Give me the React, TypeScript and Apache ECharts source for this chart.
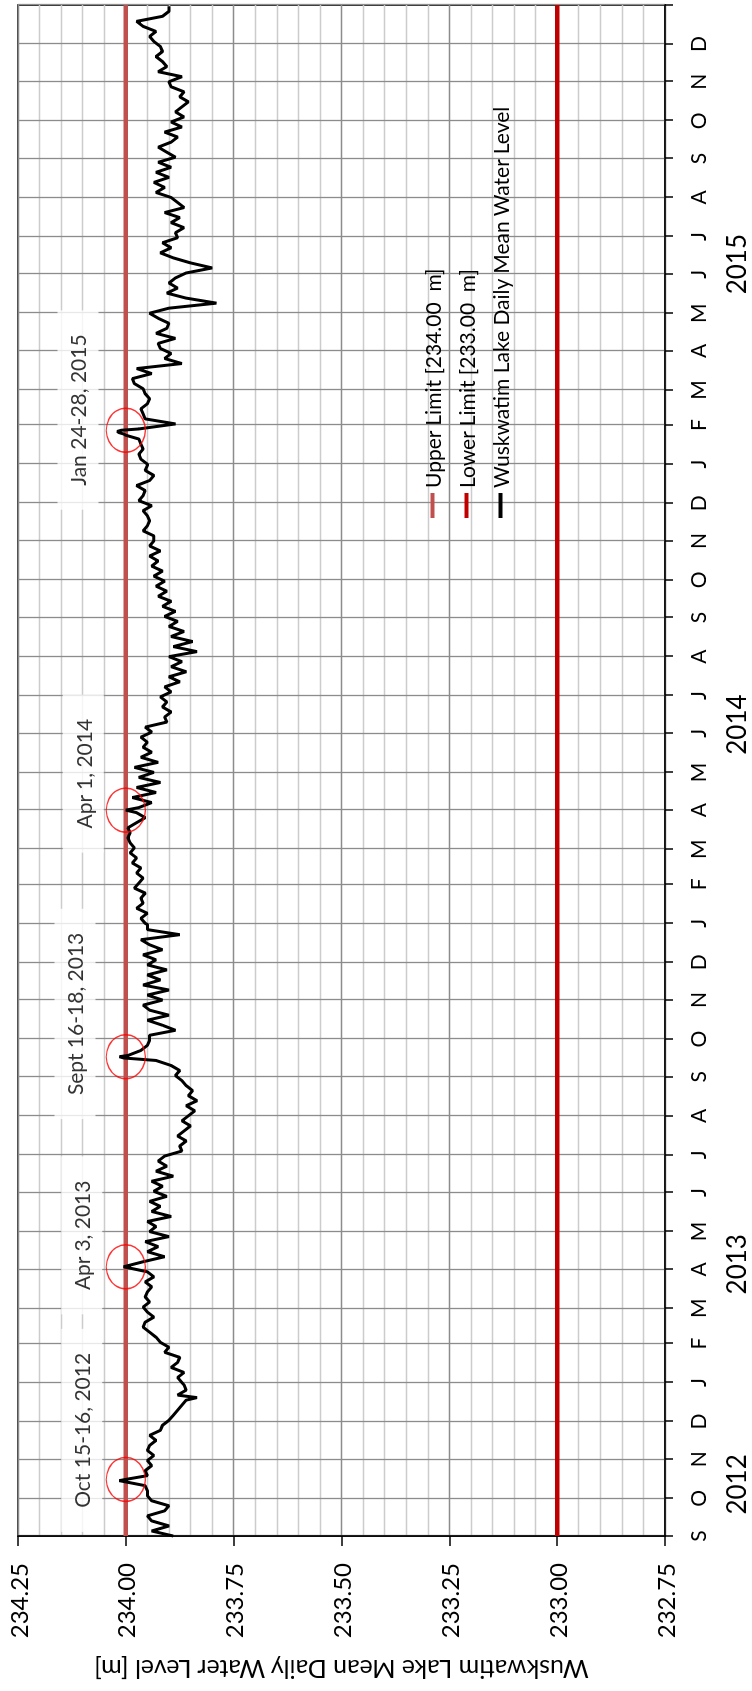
import React, { useEffect, useRef } from "react";
import * as echarts from "echarts";

// ---------- data ----------
const FONT = "Lato, 'Open Sans', sans-serif";
const MONTH_LETTERS = ["J", "F", "M", "A", "M", "J", "J", "A", "S", "O", "N", "D"];
const AXIS_START = "2012-09-01";
const AXIS_END = "2016-01-01";
const YEAR_LABELS = ["2012", "2013", "2014", "2015"];
const YEAR_LABEL_DATES = ["2012-10-12", "2013-04-05", "2014-06-08", "2015-06-09"];
const VALUE_MIN = 232.75;
const VALUE_MAX = 234.25;
const VALUE_STEP = 0.25;
const UPPER_LIMIT = 234.0;
const LOWER_LIMIT = 233.0;
const SERIES_NAMES = [
  "Upper Limit [234.00  m]",
  "Lower Limit [233.00  m]",
  "Wuskwatim Lake Daily Mean Water Level",
];
const Y_TITLE = "Wuskwatim Lake Mean Daily Water Level [m]";

// water level read every 4 days from the block start date
const SAMPLE_STEP_DAYS = 4;
const levels2012 = [
  233.89, 233.94, 233.90, 233.94, 233.95, 233.91, 233.90, 233.94, 233.95, 233.95,
  233.955, 233.955, 233.95, 233.955, 233.94, 233.95, 233.935, 233.95, 233.945, 233.93,
  233.945, 233.92, 233.915, 233.90, 233.89, 233.88, 233.87, 233.86, 233.88, 233.86,
  233.865,
];
const levels2013 = [
  233.87, 233.88, 233.865, 233.895, 233.88, 233.875, 233.91, 233.90, 233.92, 233.93,
  233.945, 233.96, 233.955, 233.935, 233.95, 233.96, 233.945, 233.955, 233.95, 233.94,
  233.955, 233.935, 233.95, 233.96, 233.96, 233.91, 233.95, 233.925, 233.955, 233.90,
  233.945, 233.93, 233.95, 233.895, 233.94, 233.92, 233.945, 233.905, 233.935, 233.915,
  233.94, 233.89, 233.93, 233.905, 233.925, 233.91, 233.87, 233.875, 233.86, 233.88,
  233.865, 233.85, 233.87, 233.855, 233.84, 233.86, 233.835, 233.855, 233.845, 233.86,
  233.87, 233.885, 233.875, 233.895, 233.93, 233.99, 233.965, 233.95, 233.945, 233.945,
  233.885, 233.915, 233.95, 233.90, 233.945, 233.96, 233.915, 233.95, 233.90, 233.96,
  233.92, 233.95, 233.905, 233.95, 233.93, 233.96, 233.915, 233.945, 233.965, 233.875,
  233.95, 233.95,
];
const levels2014 = [
  233.955, 233.965, 233.95, 233.975, 233.96, 233.965, 233.955, 233.98, 233.97, 233.96,
  233.975, 233.965, 233.985, 233.975, 233.99, 233.98, 233.99, 233.995, 233.99, 233.995,
  233.975, 233.955, 233.975, 233.97, 233.94, 233.985, 233.93, 233.975, 233.92, 233.97,
  233.935, 233.98, 233.925, 233.965, 233.94, 233.96, 233.95, 233.965, 233.94, 233.955,
  233.905, 233.91, 233.895, 233.915, 233.905, 233.92, 233.895, 233.91, 233.875, 233.90,
  233.86, 233.895, 233.87, 233.90, 233.835, 233.89, 233.845, 233.895, 233.865, 233.90,
  233.88, 233.91, 233.885, 233.915, 233.895, 233.925, 233.905, 233.93, 233.91, 233.935,
  233.915, 233.94, 233.925, 233.945, 233.92, 233.945, 233.935, 233.935, 233.96, 233.95,
  233.945, 233.95, 233.96, 233.94, 233.97, 233.96, 233.955, 233.975, 233.945, 233.935,
  233.955, 233.95,
];
const levels2015 = [
  233.95, 233.965, 233.97, 233.96, 233.965, 233.97, 233.97, 233.97, 233.885, 233.955,
  233.96, 233.965, 233.95, 233.945, 233.955, 233.96, 233.98, 233.985, 233.94, 233.975,
  233.87, 233.91, 233.895, 233.92, 233.925, 233.885, 233.93, 233.905, 233.90, 233.925,
  233.945, 233.90, 233.79, 233.86, 233.905, 233.88, 233.90, 233.885, 233.86, 233.80,
  233.85, 233.89, 233.92, 233.895, 233.915, 233.88, 233.885, 233.865, 233.895, 233.875,
  233.91, 233.865, 233.88, 233.895, 233.93, 233.91, 233.935, 233.90, 233.93, 233.895,
  233.925, 233.885, 233.905, 233.925, 233.895, 233.88, 233.91, 233.87, 233.895, 233.865,
  233.885, 233.87, 233.855, 233.875, 233.865, 233.895, 233.90, 233.87, 233.925, 233.905,
  233.915, 233.93, 233.915, 233.92, 233.935, 233.945, 233.93, 233.96, 233.975, 233.915,
  233.90, 233.90,
];
const blockStarts = ["2012-09-01", "2013-01-01", "2014-01-01", "2015-01-01"];
const blockLevels = [levels2012, levels2013, levels2014, levels2015];

// individual daily readings (spikes)
const eventDates = [
  "2012-10-15", "2012-10-16", "2012-12-20", "2013-04-03", "2013-09-16",
  "2013-09-17", "2013-09-18", "2014-04-01", "2015-01-24", "2015-01-25",
  "2015-01-26", "2015-01-27", "2015-01-28",
];
const eventLevels = [
  234.015, 234.0, 233.835, 234.005, 234.005,
  234.015, 233.995, 234.0, 234.0, 234.005,
  234.015, 234.02, 234.01,
];

// annotations
const noteTexts = ["Oct 15-16, 2012", "Apr 3, 2013", "Sept 16-18, 2013", "Apr 1, 2014", "Jan 24-28, 2015"];
const noteDates = ["2012-11-24", "2013-04-28", "2013-10-21", "2014-04-30", "2015-02-13"];
const noteLevels = [234.102, 234.102, 234.118, 234.099, 234.111];
const circleDates = ["2012-10-16", "2013-04-03", "2013-09-17", "2014-04-01", "2015-01-28"];
const circleLevels = [234.0, 234.0, 234.0, 234.0, 234.0];

// ---------- derived ----------
const DAY_MS = 86400000;
const startMs = Date.parse(AXIS_START + "T00:00:00Z");
const endMs = Date.parse(AXIS_END + "T00:00:00Z");
const nDays = Math.round((endMs - startMs) / DAY_MS) + 1;
const categories: string[] = Array.from({ length: nDays }, (_, i) =>
  new Date(startMs + i * DAY_MS).toISOString().slice(0, 10)
);
const idxOf = (d: string) => categories.indexOf(d);
const isMonthStart = (v: string) => v.slice(8) === "01";

const levelData: (number | null)[] = new Array(nDays).fill(null);
blockStarts.forEach((s, b) => {
  const i0 = idxOf(s);
  blockLevels[b].forEach((v, k) => {
    const i = i0 + k * SAMPLE_STEP_DAYS;
    if (i < nDays) levelData[i] = v;
  });
});
eventDates.forEach((d, i) => {
  levelData[idxOf(d)] = eventLevels[i];
});

const yearLabelIdx = YEAR_LABEL_DATES.map(idxOf);
const lastIdx = nDays - 1;

const option: any = {
  animation: false,
  backgroundColor: "#ffffff",
  textStyle: { fontFamily: FONT, color: "#000" },
  grid: {
    left: 154,
    right: 5,
    top: 18,
    bottom: 87,
    show: true,
    borderColor: "#000",
    borderWidth: 1.6,
    containLabel: false,
  },
  legend: {
    orient: "vertical",
    left: 1168,
    top: 417,
    icon: "rect",
    itemWidth: 25,
    itemHeight: 4,
    itemGap: 13,
    data: SERIES_NAMES,
    textStyle: { fontFamily: FONT, fontSize: 21, color: "#000" },
  },
  xAxis: [
    {
      type: "category",
      data: categories,
      boundaryGap: false,
      axisLine: { show: true, lineStyle: { color: "#000", width: 1.6 } },
      axisTick: {
        show: true,
        length: 8,
        interval: (i: number, v: string) => isMonthStart(v),
        lineStyle: { color: "#000", width: 1.5 },
      },
      axisLabel: {
        interval: (i: number, v: string) => isMonthStart(v) && i !== lastIdx,
        formatter: (v: string) => MONTH_LETTERS[parseInt(v.slice(5, 7), 10) - 1],
        fontFamily: FONT,
        fontSize: 21,
        color: "#000",
        margin: 22,
      },
      splitLine: {
        show: true,
        interval: (i: number, v: string) => isMonthStart(v),
        lineStyle: { color: "#8c8c8c", width: 1.3 },
      },
    },
    {
      type: "category",
      data: categories,
      boundaryGap: false,
      position: "bottom",
      axisLine: { show: false },
      axisTick: { show: false },
      splitLine: { show: false },
      axisLabel: {
        interval: (i: number) => yearLabelIdx.includes(i),
        formatter: (v: string, i: number) => YEAR_LABELS[yearLabelIdx.indexOf(i)] ?? v.slice(0, 4),
        fontFamily: FONT,
        fontSize: 26,
        color: "#000",
        margin: 58,
      },
    },
  ],
  yAxis: {
    type: "value",
    min: VALUE_MIN,
    max: VALUE_MAX,
    interval: VALUE_STEP,
    name: Y_TITLE,
    nameLocation: "middle",
    nameRotate: 90,
    nameGap: 122,
    nameTextStyle: { fontFamily: FONT, fontSize: 25, color: "#000" },
    axisLine: { show: true, lineStyle: { color: "#000", width: 1.6 } },
    axisTick: { show: true, length: 10, lineStyle: { color: "#000", width: 1.5 } },
    axisLabel: {
      formatter: (v: number) => v.toFixed(2),
      fontFamily: FONT,
      fontSize: 24,
      color: "#000",
      margin: 27,
    },
    splitLine: { show: true, lineStyle: { color: "#8c8c8c", width: 1.3 } },
    minorTick: { show: false, splitNumber: 5 },
    minorSplitLine: { show: true, lineStyle: { color: "#cccccc", width: 1.3 } },
  },
  series: [
    {
      name: SERIES_NAMES[0],
      type: "line",
      xAxisIndex: 0,
      data: [
        [0, UPPER_LIMIT],
        [lastIdx, UPPER_LIMIT],
      ],
      symbol: "none",
      lineStyle: { color: "#C0504D", width: 4.5 },
      itemStyle: { color: "#C0504D" },
      z: 2,
    },
    {
      name: SERIES_NAMES[1],
      type: "line",
      xAxisIndex: 0,
      data: [
        [0, LOWER_LIMIT],
        [lastIdx, LOWER_LIMIT],
      ],
      symbol: "none",
      lineStyle: { color: "#C00000", width: 4.5 },
      itemStyle: { color: "#C00000" },
      z: 2,
    },
    {
      name: SERIES_NAMES[2],
      type: "line",
      xAxisIndex: 0,
      data: levelData,
      connectNulls: true,
      symbol: "none",
      lineStyle: { color: "#000000", width: 3 },
      itemStyle: { color: "#000000" },
      z: 3,
    },
    {
      name: "circles",
      type: "scatter",
      xAxisIndex: 0,
      data: circleDates.map((d, i) => [idxOf(d), circleLevels[i]]),
      symbol: "circle",
      symbolSize: [44, 39],
      itemStyle: { color: "rgba(0,0,0,0)", borderColor: "#ff0000", borderWidth: 1.5 },
      silent: true,
      z: 4,
    },
    {
      name: "notes",
      type: "scatter",
      xAxisIndex: 0,
      data: noteDates.map((d, i) => ({ name: noteTexts[i], value: [idxOf(d), noteLevels[i]] })),
      symbol: "rect",
      symbolSize: 1,
      itemStyle: { color: "rgba(0,0,0,0)" },
      label: {
        show: true,
        position: "inside",
        formatter: (p: any) => p.name,
        fontFamily: FONT,
        fontSize: 21,
        color: "#000",
        backgroundColor: "#ffffff",
        padding: [10, 24],
      },
      silent: true,
      z: 5,
    },
  ],
};

export default function App() {
  const ref = useRef<HTMLDivElement>(null);
  useEffect(() => {
    if (!ref.current) return;
    const chart = echarts.init(ref.current, undefined, { renderer: "svg" });
    chart.setOption(option);
    return () => chart.dispose();
  }, []);
  return (
    <div
      ref={ref}
      style={{
        position: "fixed",
        left: 0,
        top: 0,
        width: 1691,
        height: 752,
        transformOrigin: "0 0",
        transform: "translateY(1691px) rotate(-90deg)",
        background: "#fff",
      }}
    />
  );
}
